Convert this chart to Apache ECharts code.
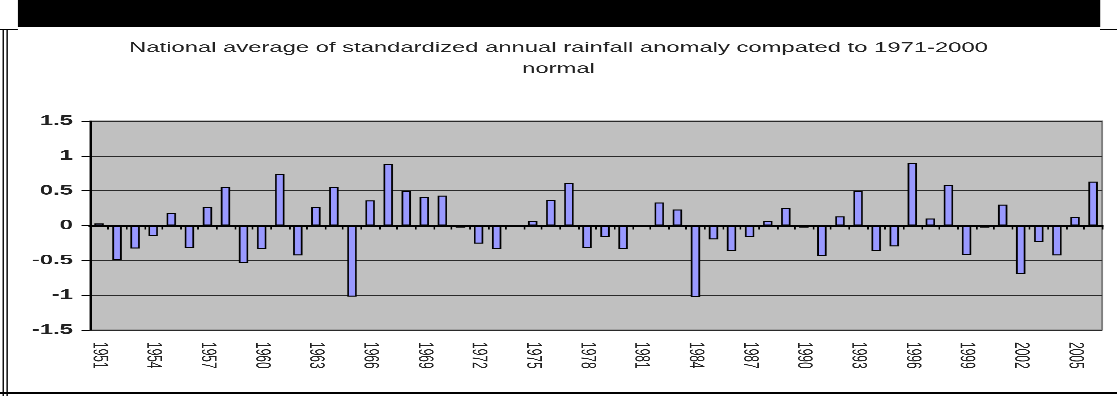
<!DOCTYPE html>
<html>
<head>
<meta charset="utf-8">
<script src="https://cdn.jsdelivr.net/npm/echarts@6/dist/echarts.min.js"></script>
<style>
  html, body { margin: 0; padding: 0; background: #fff; overflow: hidden; }
  #wrap { width: 1117px; height: 396px; overflow: hidden; }
  /* chart is laid out narrow and widened horizontally, like a stretched spreadsheet chart */
  #chart { width: 657px; height: 396px; transform: scaleX(1.7002); transform-origin: 0 0; }
</style>
</head>
<body>
<div id="wrap"><div id="chart"></div></div>
<script>
// Years of record
const years = [];
for (let y = 1951; y <= 2006; y++) years.push(String(y));

// Standardized annual rainfall anomaly, one value per year
const anomaly = [
  0.03, -0.49, -0.33, -0.15, 0.18, -0.32, 0.27, 0.55, -0.54, -0.34,
  0.74, -0.43, 0.27, 0.55, -1.02, 0.36, 0.88, 0.49, 0.41, 0.43,
  -0.03, -0.26, -0.34, 0.00, 0.06, 0.37, 0.61, -0.32, -0.17, -0.34,
  0.00, 0.33, 0.23, -1.03, -0.20, -0.37, -0.17, 0.06, 0.25, -0.03,
  -0.44, 0.13, 0.50, -0.37, -0.30, 0.90, 0.10, 0.58, -0.42, -0.03,
  0.30, -0.70, -0.24, -0.43, 0.12, 0.63
];

const titleLine1 = 'National average of standardized annual rainfall anomaly compated to 1971-2000';
const titleLine2 = 'normal';

const FONT = "'Liberation Sans', Arial, sans-serif";
const Y_MIN = -1.5, Y_MAX = 1.5;
const GRID_TOP = 121, GRID_BOTTOM = 66, CHART_H = 396;
// distance of the zero level above the plot bottom, used to lift the tick axis onto zero
const plotH = CHART_H - GRID_TOP - GRID_BOTTOM;
const zeroLift = plotH * (0 - Y_MIN) / (Y_MAX - Y_MIN);

const chart = echarts.init(document.getElementById('chart'), null, { renderer: 'canvas', devicePixelRatio: 3 });

chart.setOption({
  backgroundColor: '#ffffff',
  animation: false,
  title: [
    { text: titleLine1, left: 'center', top: 36,
      textStyle: { fontFamily: FONT, fontSize: 14, fontWeight: 'normal', color: '#222' } },
    { text: titleLine2, left: 'center', top: 57,
      textStyle: { fontFamily: FONT, fontSize: 14, fontWeight: 'normal', color: '#222' } }
  ],
  graphic: [
    // black band across the top
    { type: 'rect', shape: { x: 10.6, y: 0, width: 636.5, height: 27 }, style: { fill: '#000' } },
    // frame lines
    { type: 'rect', shape: { x: 0, y: 29, width: 10.6, height: 1 }, style: { fill: '#000' } },
    { type: 'rect', shape: { x: 647, y: 29, width: 10, height: 1 }, style: { fill: '#000' } },
    { type: 'rect', shape: { x: 1.5, y: 29, width: 0.8, height: 367 }, style: { fill: '#000' } },
    { type: 'rect', shape: { x: 3.8, y: 29, width: 0.8, height: 367 }, style: { fill: '#000' } },
    { type: 'rect', shape: { x: 0, y: 392, width: 657, height: 2 }, style: { fill: '#000' } }
  ],
  grid: {
    left: 52.9, right: 8.8, top: GRID_TOP, bottom: GRID_BOTTOM,
    containLabel: false, outerBoundsMode: 'none',
    show: true, backgroundColor: '#c0c0c0', borderColor: '#808080', borderWidth: 1
  },
  xAxis: [
    {
      // year labels under the plot
      type: 'category', data: years, position: 'bottom',
      axisLine: { show: false, onZero: false },
      axisTick: { show: false },
      splitLine: { show: false },
      axisLabel: { interval: 2, rotate: -90, margin: 12, fontFamily: FONT, fontSize: 12, color: '#222' }
    },
    {
      // heavy baseline with category ticks, lifted onto the zero level
      type: 'category', data: years, position: 'bottom', offset: -zeroLift,
      axisLine: { show: true, onZero: false, lineStyle: { color: '#000', width: 2 } },
      axisTick: { show: true, interval: 0, length: 4, lineStyle: { color: '#000', width: 1 } },
      axisLabel: { show: false },
      splitLine: { show: false }
    }
  ],
  yAxis: {
    type: 'value', min: Y_MIN, max: Y_MAX, interval: 0.5,
    axisLine: { show: true, lineStyle: { color: '#000', width: 1 } },
    axisTick: { show: true, length: 5, lineStyle: { color: '#000' } },
    axisLabel: { margin: 10, fontFamily: FONT, fontSize: 14, fontWeight: 'bold', color: '#222' },
    splitLine: { show: true, lineStyle: { color: '#2a2a2a', width: 1 } }
  },
  series: [{
    type: 'bar', xAxisIndex: 0, data: anomaly,
    barCategoryGap: '48%',
    itemStyle: { color: '#9999ff', borderColor: '#000', borderWidth: 1 },
    markLine: {
      silent: true, symbol: 'none', label: { show: false },
      lineStyle: { color: '#000', width: 2, type: 'solid' },
      data: [{ yAxis: 0 }]
    }
  }]
});
</script>
</body>
</html>
